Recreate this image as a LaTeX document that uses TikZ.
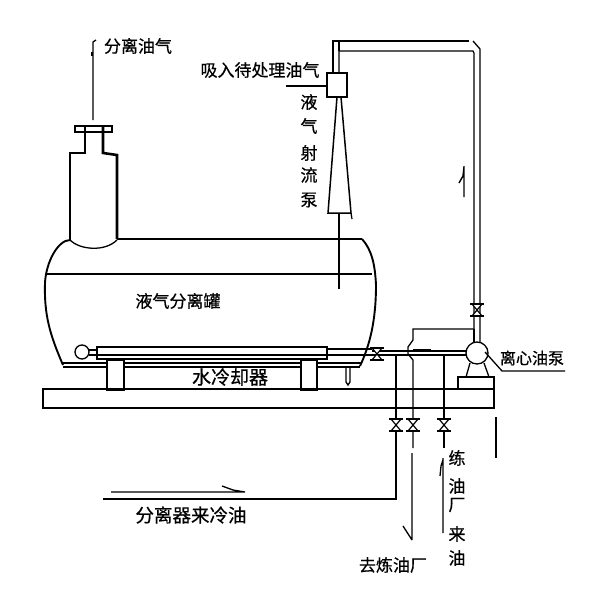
\documentclass[tikz,border=0pt]{standalone}
\usepackage{fontspec}
\newfontfamily\cjk[RawFeature={embolden=0.6}]{Noto Sans CJK SC}
\tikzset{
  thin pipe/.style={line width=1.3pt,line join=miter},
  wall/.style={line width=2.6pt,line join=miter},
  shell/.style={line width=1.9pt,line join=round},
  label/.style={inner sep=0pt,font=\cjk\fontsize{17}{17}\selectfont},
  valve/.pic={
    \draw[line width=1.2pt,fill=white] (-5,-6) -- (5,6) -- (-5,6) -- (5,-6) -- cycle;
    \draw[line width=1.5pt] (-7,-6) -- (7,-6) (-7,6) -- (7,6);
  }
}
\begin{document}
\begin{tikzpicture}[x=1pt,y=-1pt]
\useasboundingbox (0,0) rectangle (600,598);
% stack
\draw[thin pipe] (93,120) -- (93,42) -- (96,40);
\draw[line width=2pt] (92,52) -- (92,56);
\draw[line width=1.6pt] (75,126) rectangle (112,132);
\draw[wall] (85,126) -- (85,153) -- (70,153) -- (70,240);
\draw[wall] (103,126) -- (103,153) -- (117,155) -- (117,239);
\draw[thin pipe] (70,240) .. controls (80,250) and (105,252) .. (117,240);
% tank
\draw[wall] (117,239) -- (362,239);
\draw[shell] (70,240) .. controls (58,240) and (46,262) .. (45,283)
  .. controls (44,315) and (50,335) .. (63,365);
\draw[shell] (362,239) .. controls (372,250) and (375,265) .. (376,285)
  .. controls (376,320) and (370,345) .. (360,366);
\draw[thin pipe] (47,274) -- (372,274);
\draw[thin pipe] (63,363) -- (362,363) (63,367) -- (360,367);
% cooler
\draw[line width=1.5pt] (97,347) rectangle (327,359);
\draw[line width=1.2pt] (97,355) -- (327,355);
\draw[line width=2.4pt] (97,347) -- (327,347);
\draw[thin pipe] (82,352) circle (7);
\draw[thin pipe] (89,350) -- (97,350) (89,355) -- (97,355);
\draw[thin pipe] (327,349) -- (372,349) (327,355) -- (372,355);
% feet and platform
\draw[thin pipe,fill=white] (107,360) rectangle (124,390);
\draw[thin pipe,fill=white] (301,360) rectangle (317,390);
\draw[line width=2.4pt] (107,390) -- (124,390) (301,390) -- (317,390);
\draw[thin pipe] (43,389) rectangle (494,408);
\draw[thin pipe] (346,368) -- (346,382) -- (348,385) -- (350,382) -- (350,368);
% jet pump
\draw[thin pipe] (286,86) -- (327,86);
\draw[line width=1.7pt] (327,73) rectangle (347,97);
\draw[line width=1.5pt] (337,97) -- (328,213) -- (351,213) -- (341,97);
\draw[thin pipe] (351,213) -- (352,219);
\draw[thin pipe] (339,213) -- (339,289);
% motive pipe
\draw[thin pipe] (339,73) -- (339,51) -- (473,51) -- (474,53) -- (474,329);
\draw[thin pipe] (333,73) -- (333,41) -- (469,41);
\draw[thin pipe] (473,41) -- (480,49) -- (480,345);
\draw[thin pipe] (339,41) -- (339,51);
\draw[line width=1.4pt] (464,166) -- (464,197) (464,167) -- (463,176) -- (459,183);
% pump and headers
\draw[thin pipe,fill=white] (477,353) circle (11);
\draw[thin pipe] (470,363) -- (466,377) (484,363) -- (489,377);
\draw[thin pipe] (458,389) -- (458,377) -- (494,377) -- (494,389);
\draw[thin pipe] (485,352) -- (502,371) -- (565,371);
\draw[thin pipe] (372,351) -- (467,351) (372,355) -- (467,355);
\draw[line width=2.2pt] (413,350) -- (431,350);
\draw[thin pipe] (474,329) -- (413,329) -- (413,340) -- (408,347) -- (408,354) -- (413,360) -- (413,448);
\draw[thin pipe] (474,329) -- (474,343);
\draw[thin pipe] (396,355) -- (396,499) -- (103,499);
\draw[thin pipe] (444,355) -- (444,448);
\draw[thin pipe] (412,453) -- (412,540) (412,540) -- (403,526);
\draw[thin pipe] (443,458) -- (443,533) (443,460) -- (441,466) -- (440,476);
\draw[thin pipe] (111,492) -- (245,492) -- (233,490) -- (222,486);
\draw[thin pipe] (496,417) -- (496,458);
% valves
\pic at (477,310) {valve};
\pic at (377,354) {valve};
\pic at (396,425) {valve};
\pic at (413,425) {valve};
\pic at (444,425) {valve};
% labels
\node[label] (sepgas) at (138,46) {分离油气};
\node[label] (suction) at (260,70) {吸入待处理油气};
\node[label] (jet1) at (309,102) {液};
\node[label] (jet2) at (309,126) {气};
\node[label] (jet3) at (309,153) {射};
\node[label] (jet4) at (309,175) {流};
\node[label] (jet5) at (309,200) {泵};
\node[label] (tank) at (178,301) {液气分离罐};
\node[label,font=\cjk\fontsize{19}{19}\selectfont] (cooler) at (230,377) {水冷却器};
\node[label,font=\cjk\fontsize{16}{16}\selectfont] (pump) at (532,358) {离心油泵};
\node[label,font=\cjk\fontsize{18.5}{18.5}\selectfont] (sepoil) at (191,515) {分离器来冷油};
\node[label] (torefinery) at (393,565) {去炼油厂};
\node[label] (ref1) at (457,458) {练};
\node[label] (ref2) at (457,486) {油};
\node[label] (ref3) at (457,505) {厂};
\node[label] (ref4) at (457,534) {来};
\node[label] (ref5) at (457,558) {油};
\end{tikzpicture}
\end{document}
